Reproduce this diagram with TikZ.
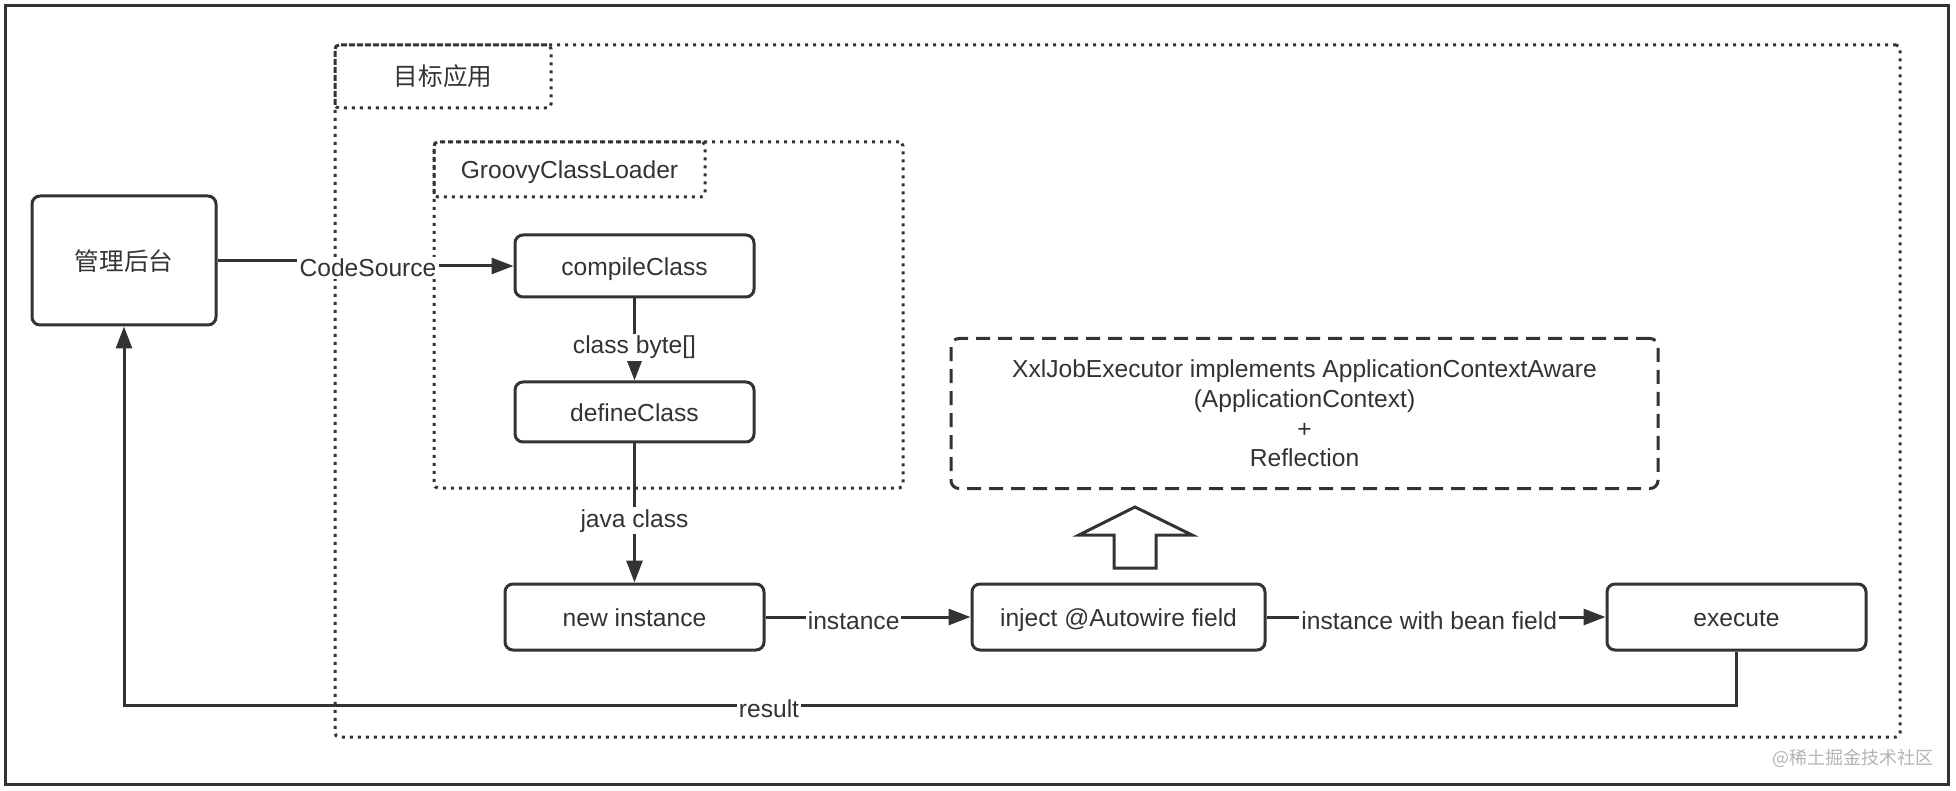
\documentclass[tikz,border=0pt]{standalone}
\usepackage{fontspec}
\setmainfont{Liberation Sans}
\newfontfamily\cjk{Noto Sans CJK SC}
\usetikzlibrary{arrows.meta}
\definecolor{ink}{HTML}{333333}
\definecolor{wm}{HTML}{B4B4B4}
\newcommand{\mfs}{\fontsize{12.3}{14.8}\selectfont}
\begin{document}
\begin{tikzpicture}[x=0.5pt,y=-0.5pt,
  box/.style={draw=ink, line width=1.5pt, rounded corners=4pt, fill=white, text=ink, font=\mfs, inner sep=0pt, text height=9.6pt, text depth=0pt},
  dotbox/.style={draw=ink, line width=1.5pt, dash pattern=on 1.5pt off 2.5pt, rounded corners=2pt, text=ink, font=\mfs, inner sep=0pt, text height=9.4pt, text depth=0pt},
  dashbox/.style={draw=ink, line width=1.5pt, dash pattern=on 7pt off 4pt, rounded corners=4pt, text=ink, font=\mfs, inner sep=0pt, align=center},
  conn/.style={draw=ink, line width=1.5pt},
  arr/.style={conn, -{Triangle[length=11pt,width=8pt]}},
  lbl/.style={fill=white, inner sep=1pt, text=ink, font=\mfs, yshift=-1.8pt}]
\useasboundingbox (0,0) rectangle (1956,791);
\fill[white] (0,0) rectangle (1956,791);
% outer frame
\draw[ink, line width=1.5pt] (5,6) rectangle (1948,784);
% containers
\node[dotbox, minimum width=782.5pt, minimum height=346pt] (target) at (1117.5,391) {};
\node[dotbox, minimum width=108pt, minimum height=31.5pt] (targetlbl) at (443,76.5) {\cjk 目标应用};
\node[dotbox, minimum width=234.5pt, minimum height=173pt] (groovy) at (668.5,315) {};
\node[dotbox, minimum width=135.5pt, minimum height=27.5pt] (groovylbl) at (569.5,169.5) {GroovyClassLoader};
% boxes
\node[box, minimum width=92pt, minimum height=64.5pt] (admin) at (124,260.5) {\cjk 管理后台};
\node[box, minimum width=119.5pt, minimum height=31pt] (compile) at (634.5,266) {compileClass};
\node[box, minimum width=119.5pt, minimum height=30pt] (define) at (634.5,412) {defineClass};
\node[box, minimum width=129.5pt, minimum height=33pt] (newinst) at (634.5,617) {new instance};
\node[box, minimum width=146.5pt, minimum height=33pt] (inject) at (1118.5,617) {inject @Autowire field};
\node[box, minimum width=129.5pt, minimum height=33pt] (exec) at (1736.5,617) {execute};
\node[dashbox, minimum width=353.5pt, minimum height=75pt] (ctx) at (1304.5,413.5)
  {XxlJobExecutor implements ApplicationContextAware\\(ApplicationContext)\\+\\Reflection};
% hollow up arrow
\draw[ink, line width=1.5pt, fill=white, line join=miter] (1114,568) -- (1114,535) -- (1079,535) -- (1135,507) -- (1192,535) -- (1156,535) -- (1156,568) -- cycle;
% connectors
\node[lbl] (cs) at (368,264) {CodeSource};
\draw[conn] (admin.east) -- (cs.west |- admin.east);
\draw[arr] (cs.east |- compile.west) -- (compile.west);
\draw[arr] (compile.south) -- node[lbl, pos=0.55] {class byte[]} (define.north);
\draw[arr] (define.south) -- node[lbl, pos=0.53] {java class} (newinst.north);
\draw[arr] (newinst.east) -- node[lbl, pos=0.43] {instance} (inject.west);
\draw[arr] (inject.east) -- node[lbl, pos=0.48] {instance with bean field} (exec.west);
\coordinate (r1) at (1736.5,705);
\coordinate (r2) at (124,705);
\draw[arr] (exec.south) -- (r1) -- node[lbl, pos=0.6] {result} (r2) -- (admin.south);
% watermark
\node[text=wm, font={\cjk\fontsize{9}{10}\selectfont}, inner sep=0pt] (wmark) at (1853,758) {@稀土掘金技术社区};
\end{tikzpicture}
\end{document}
